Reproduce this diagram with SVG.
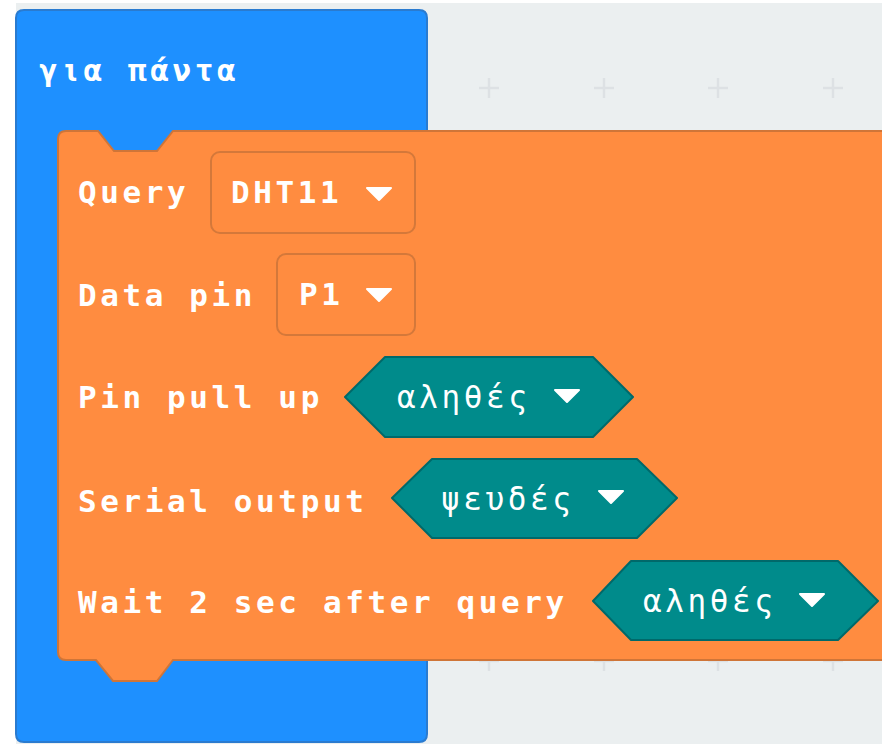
<svg xmlns="http://www.w3.org/2000/svg" width="882" height="744" viewBox="0 0 882 744">
<style>
.t{font-family:"DejaVu Sans Mono","Liberation Mono",monospace;font-size:31px;font-weight:bold;fill:#ffffff;letter-spacing:3.6px}
.g{font-weight:normal}
.dd{fill:#ff8c40;stroke:#d4783a;stroke-width:2}
.hex{fill:#008b8b;stroke:#00696a;stroke-width:2;stroke-linejoin:round}
.arr{fill:#ffffff;stroke:#ffffff;stroke-width:2;stroke-linejoin:round}
.plus{stroke:#dde1e4;stroke-width:2.5;fill:none}
</style>
<rect x="0" y="0" width="882" height="744" fill="#ffffff"/>
<rect x="16" y="3" width="866" height="741" fill="#ebeff0"/>
<g id="grid">
<path class="plus" d="M479,88h20M489,78v20M594,88h20M604,78v20M708,88h20M718,78v20M823,88h20M833,78v20"/>
<path class="plus" d="M479,661h20M489,651v20M594,661h20M604,651v20M708,661h20M718,651v20M823,661h20M833,651v20"/>
</g>
<g id="forever">
<path d="M24,10 H419 Q427,10 427,18 V734 Q427,742 419,742 H24 Q16,742 16,734 V18 Q16,10 24,10 Z" fill="#1e90ff" stroke="#2a7bd0" stroke-width="2"/>
<text class="t" x="39" y="81">για πάντα</text>
</g>
<g id="dht11-query">
<path d="M66,131 H98 L114,151 H157 L173,131 H892 V660 H173 L157,681 H113 L96,660 H66 Q58,660 58,652 V139 Q58,131 66,131 Z" fill="#ff8c40" stroke="#cf7538" stroke-width="2"/>
<text class="t" x="78" y="203">Query</text>
<text class="t" x="78" y="306">Data pin</text>
<text class="t" x="78" y="408">Pin pull up</text>
<text class="t" x="78" y="512">Serial output</text>
<text class="t" x="78" y="613">Wait 2 sec after query</text>
</g>
<g id="field-sensor">
<rect class="dd" x="211" y="152" width="204" height="81" rx="9"/>
<text class="t" x="231" y="203">DHT11</text>
<path class="arr" d="M367,188 H391 L379,200 Z"/>
</g>
<g id="field-pin">
<rect class="dd" x="277" y="254" width="138" height="81" rx="9"/>
<text class="t" x="299" y="305">P1</text>
<path class="arr" d="M367,289 H391 L379,301 Z"/>
</g>
<g id="field-pullup">
<path class="hex" d="M345,397 L385,357 H593 L633,397 L593,437 H385 Z"/>
<text class="t g" x="397" y="408">αληθές</text>
<path class="arr" d="M555,390 H579 L567,402 Z"/>
</g>
<g id="field-serial">
<path class="hex" d="M392,498 L432,459 H637 L677,498 L637,538 H432 Z"/>
<text class="t g" x="441" y="510">ψευδές</text>
<path class="arr" d="M599,491 H623 L611,503 Z"/>
</g>
<g id="field-wait">
<path class="hex" d="M593,601 L631,561 H838 L878,601 L838,640 H631 Z"/>
<text class="t g" x="643" y="612">αληθές</text>
<path class="arr" d="M800,594 H824 L812,606 Z"/>
</g>
<g id="connectors"/>
</svg>
